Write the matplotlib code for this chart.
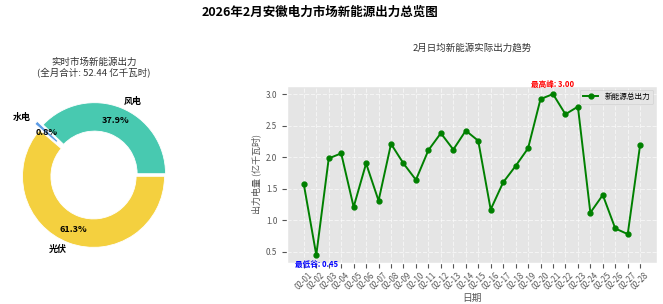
import matplotlib
matplotlib.use("Agg")
import matplotlib.pyplot as plt

plt.style.use("ggplot")
plt.rcParams['font.family'] = ['Noto Sans CJK SC', 'DejaVu Sans']
plt.rcParams['axes.unicode_minus'] = False

# ---- data ----
pie_labels = ["风电", "水电", "光伏"]
pie_values = [37.9, 0.8, 61.3]
pie_colors = ["#48C9B0", "#5B9BE6", "#F4D03F"]
total_month = 52.44

dates = ["02-01", "02-02", "02-03", "02-04", "02-05", "02-06", "02-07",
         "02-08", "02-09", "02-10", "02-11", "02-12", "02-13", "02-14",
         "02-15", "02-16", "02-17", "02-18", "02-19", "02-20", "02-21",
         "02-22", "02-23", "02-24", "02-25", "02-26", "02-27", "02-28"]
output = [1.57, 0.45, 1.98, 2.06, 1.21, 1.90, 1.31,
          2.21, 1.90, 1.64, 2.11, 2.38, 2.12, 2.42,
          2.26, 1.17, 1.60, 1.86, 2.14, 2.92, 3.00,
          2.68, 2.80, 1.12, 1.40, 0.87, 0.78, 2.20]

W, H = 663, 304
fig = plt.figure(figsize=(W / 100, H / 100), dpi=100)
fig.patch.set_facecolor("white")

def fx(px):
    return px / W

def fy(py):
    return 1 - py / H

fig.text(fx(320), fy(12), "2026年2月安徽电力市场新能源出力总览图",
         ha="center", va="center", fontsize=9, fontweight="bold", color="black")

# ---- donut ----
cx, cy, r = 94, 175, 71
half = 1.25 * r
ax1 = fig.add_axes([fx(cx - half), fy(cy + half), 2 * half / W, 2 * half / H])
wedges, texts, autotexts = ax1.pie(
    pie_values, labels=pie_labels, colors=pie_colors, startangle=0,
    explode=(0.02, 0.1, 0.02), autopct="%1.1f%%", pctdistance=0.8, labeldistance=1.1,
    wedgeprops=dict(width=0.4, edgecolor="white", linewidth=0.6),
    textprops=dict(fontsize=6.5, fontweight="bold", color="black"))
ax1.set_xlim(-1.25, 1.25)
ax1.set_ylim(-1.25, 1.25)
ax1.set_aspect("equal")
fig.text(fx(94), fy(68), "实时市场新能源出力\n(全月合计: %.2f 亿千瓦时)" % total_month,
         ha="center", va="center", fontsize=6.8, color="#333333", linespacing=1.2)

# ---- line ----
ax2 = fig.add_axes([fx(287), fy(263), (657 - 287) / W, (263 - 86) / H])
x = list(range(len(dates)))
ax2.plot(x, output, color="green", marker="o", markersize=3.5, linewidth=1.4,
         label="新能源总出力")
ax2.set_xticks(x)
ax2.set_xticklabels(dates, rotation=45, fontsize=5.7)
ax2.tick_params(axis="y", labelsize=5.8)
ax2.tick_params(axis="x", pad=2)
ax2.grid(True, linestyle="--", alpha=0.6, color="white")
ax2.set_ylabel("出力电量 (亿千瓦时)", fontsize=6.5, labelpad=3)
ax2.set_xlabel("日期", fontsize=7, labelpad=1)
fig.text(fx(472), fy(48), "2月日均新能源实际出力趋势", ha="center", va="center",
         fontsize=6.8, color="#333333")

imax = output.index(max(output))
imin = output.index(min(output))
ax2.annotate("最高峰: %.2f" % output[imax], (imax, output[imax]),
             xytext=(0, 3.5), textcoords="offset points", ha="center", va="bottom",
             color="red", fontsize=5.5, fontweight="bold")
ax2.annotate("最低谷: %.2f" % output[imin], (imin, output[imin]),
             xytext=(0, -3.5), textcoords="offset points", ha="center", va="top",
             color="blue", fontsize=5.5, fontweight="bold")
ax2.legend(loc="upper right", fontsize=5.5)

fig.savefig("out.png", dpi=100, facecolor="white")
